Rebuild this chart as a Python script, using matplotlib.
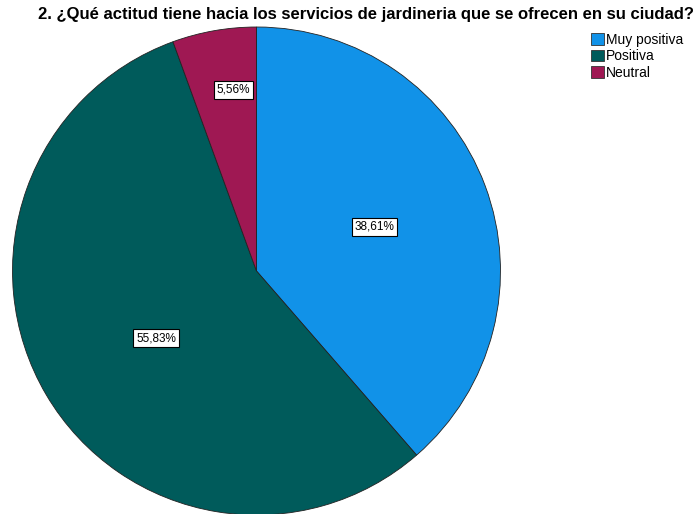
import numpy as np
import matplotlib
matplotlib.use("Agg")
import matplotlib.pyplot as plt
from matplotlib.patches import Patch

categories = ["Muy positiva", "Positiva", "Neutral"]
percentages = [38.61, 55.83, 5.56]
colors = ["#1192e8", "#005b5b", "#9f1853"]
title = "2. ¿Qué actitud tiene hacia los servicios de jardineria que se ofrecen en su ciudad?"

plt.rcParams["font.family"] = ["Liberation Sans", "DejaVu Sans"]

W, H = 697, 514
fig = plt.figure(figsize=(W / 100, H / 100), dpi=100)
cx, cy, r = 256.5, 271, 244
ax = fig.add_axes([(cx - r) / W, (H - cy - r) / H, 2 * r / W, 2 * r / H])

wedges, _ = ax.pie(percentages, colors=colors, startangle=90, counterclock=False,
                   radius=1.0, wedgeprops=dict(edgecolor="#222222", linewidth=0.6))
ax.set_xlim(-1, 1)
ax.set_ylim(-1, 1)
ax.set_aspect("equal")
ax.axis("off")

# label placement: (fraction of radius, angular nudge in degrees) from each wedge's mid-angle
label_pos = [(0.516, 0.0), (0.495, 3.2), (0.748, -2.8)]
for w, p, (d, nudge) in zip(wedges, percentages, label_pos):
    ang = np.deg2rad((w.theta1 + w.theta2) / 2 + nudge)
    ax.text(d * np.cos(ang), d * np.sin(ang), f"{p:.2f}%".replace(".", ","),
            ha="center", va="center", fontsize=8.5,
            bbox=dict(boxstyle="square,pad=0.25", fc="white", ec="black", lw=0.8))

fig.text(366 / W, 1 - 14 / H, title, ha="center", va="center",
         fontsize=12, fontweight="bold")

handles = [Patch(facecolor=c, edgecolor="#333333", linewidth=0.6) for c in colors]
fig.legend(handles, categories, loc="upper left", bbox_to_anchor=(591 / W, 1 - 33 / H),
           frameon=False, fontsize=10, handlelength=0.9, handleheight=0.9,
           handletextpad=0.2, labelspacing=0.18, borderaxespad=0, borderpad=0)

fig.savefig("out.png", dpi=100)
